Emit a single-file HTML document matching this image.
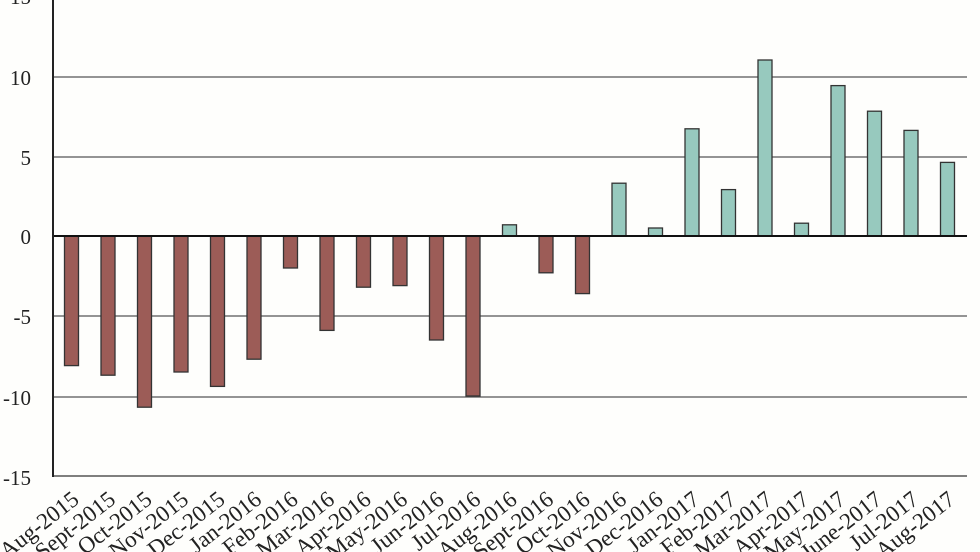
<!DOCTYPE html>
<html><head><style>html,body{margin:0;padding:0;background:#fefefc;}svg{display:block}</style></head>
<body>
<svg width="980" height="552" xmlns="http://www.w3.org/2000/svg" font-family="'Liberation Serif',serif">
<rect width="980" height="552" fill="#fefefc"/>
<g stroke="#555" stroke-width="1.2">
<line x1="53" y1="77" x2="967" y2="77"/>
<line x1="53" y1="157" x2="967" y2="157"/>
<line x1="53" y1="316" x2="967" y2="316"/>
<line x1="53" y1="397" x2="967" y2="397"/>
</g>
<g font-size="21" fill="#222" text-anchor="end">
<text x="31" y="4">15</text>
<text x="31" y="85">10</text>
<text x="31" y="165">5</text>
<text x="31" y="244">0</text>
<text x="31" y="324">-5</text>
<text x="31" y="405">-10</text>
<text x="31" y="485">-15</text>
</g>
<g id="bars" stroke="#333" stroke-width="1.3"></g>
<line x1="53" y1="236" x2="967" y2="236" stroke="#111" stroke-width="2"/>
<line x1="53" y1="476" x2="967" y2="476" stroke="#555" stroke-width="1.5"/>
<line x1="53" y1="0" x2="53" y2="477" stroke="#222" stroke-width="2"/>
<g id="labels" font-size="23" fill="#222" text-anchor="end"></g>
<script>
var v=[-8.1,-8.7,-10.7,-8.5,-9.4,-7.7,-2,-5.9,-3.2,-3.1,-6.5,-10,0.7,-2.3,-3.6,3.3,0.5,6.7,2.9,11,0.8,9.4,7.8,6.6,4.6];
var n=["Aug-2015","Sept-2015","Oct-2015","Nov-2015","Dec-2015","Jan-2016","Feb-2016","Mar-2016","Apr-2016","May-2016","Jun-2016","Jul-2016","Aug-2016","Sept-2016","Oct-2016","Nov-2016","Dec-2016","Jan-2017","Feb-2017","Mar-2017","Apr-2017","May-2017","June-2017","Jul-2017","Aug-2017"];
var b=document.getElementById("bars"),l=document.getElementById("labels"),ns="http://www.w3.org/2000/svg";
for(var i=0;i<25;i++){var c=71.5+36.5*i,y0=236,y1=236-v[i]*16;
var r=document.createElementNS(ns,"rect");r.setAttribute("x",c-7);r.setAttribute("width",14);
r.setAttribute("y",Math.min(y0,y1));r.setAttribute("height",Math.abs(y1-y0));
r.setAttribute("fill",v[i]<0?"#9c5c57":"#97c9be");b.appendChild(r);
var x=c+9,y=502;
var t=document.createElementNS(ns,"text");t.setAttribute("x",x);t.setAttribute("y",y);
t.setAttribute("transform","rotate(-38 "+x+" "+y+")");t.textContent=n[i];l.appendChild(t);}
</script>
</svg>
</body></html>
